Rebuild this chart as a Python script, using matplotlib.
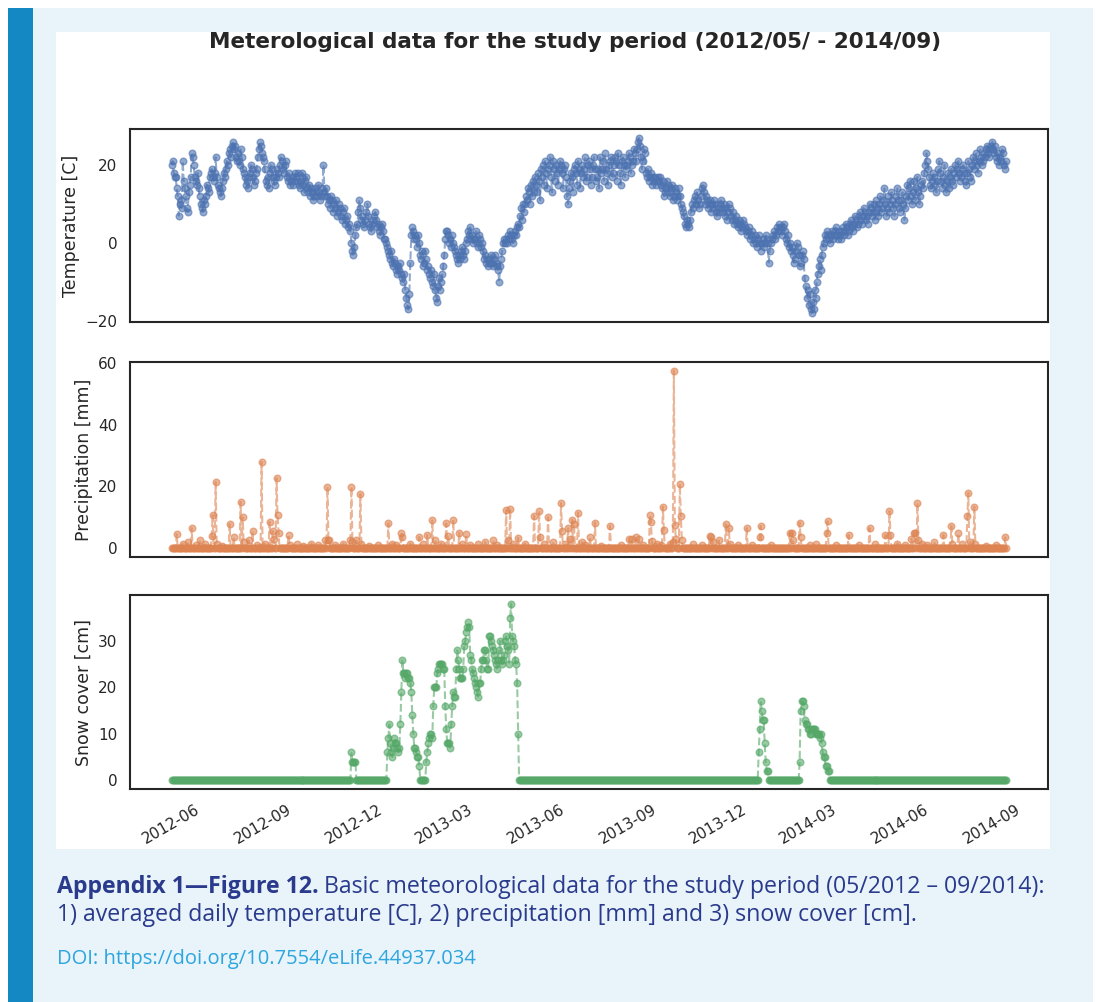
import numpy as np
import pandas as pd
import matplotlib
matplotlib.use('Agg')
import matplotlib.pyplot as plt
import matplotlib.dates as mdates
from matplotlib.patches import Rectangle

plt.rcParams['font.family'] = ['DejaVu Sans']

# daily mean temperature [C], one row per month, from 2012-05-01
start_day = '2012-05-01'
temp_c = [
    20, 21, 18, 17, 17, 14, 12, 7, 10, 11, 9, 21, 16, 14, 12, 9, 8, 13, 15, 17, 23, 22, 20, 17, 16, 15, 18, 14, 12, 10, 9,
    8, 11, 10, 12, 15, 14, 13, 17, 18, 19, 17, 16, 18, 22, 17, 15, 14, 13, 12, 14, 16, 18, 17, 19, 21, 20, 23, 24, 22, 25,
    26, 24, 25, 22, 21, 23, 21, 20, 24, 22, 19, 18, 17, 15, 16, 14, 17, 18, 20, 19, 17, 15, 16, 18, 19, 22, 24, 26, 25, 23, 22,
    21, 19, 16, 15, 17, 14, 18, 20, 19, 17, 16, 15, 17, 19, 18, 17, 20, 22, 21, 19, 18, 20, 21, 17, 16, 18, 15, 16, 17, 15, 16,
    18, 17, 16, 18, 15, 14, 16, 17, 18, 15, 13, 16, 17, 14, 13, 15, 12, 14, 13, 11, 12, 14, 13, 12, 15, 13, 11, 12, 14, 20,
    13, 12, 14, 12, 10, 11, 9, 12, 11, 8, 10, 9, 11, 7, 8, 10, 9, 7, 6, 8, 9, 5, 6, 7, 4, 5, 3, 0, -2, -3, -1,
    2, 4, 5, 8, 11, 9, 6, 7, 5, 4, 6, 8, 10, 7, 5, 4, 3, 5, 6, 7, 8, 6, 4, 5, 3, 2, 4, 5, 3, 1,
    1, 0, -1, -2, -3, -4, -2, -5, -6, -4, -5, -7, -8, -6, -7, -5, -8, -9, -10, -8, -12, -14, -16, -17, -13, -5, 2, 4, 3, 1, 2,
    1, -1, 2, 0, -3, -4, -2, -6, -5, -2, -4, -7, -6, -8, -9, -7, -10, -11, -8, -12, -14, -15, -11, -9, -12, -10, -8, -6, -3, 1, 3,
    3, 2, 0, 1, -1, 2, 0, -1, -2, -3, -4, -5, -3, -4, -2, -1, -3, -4, -2, 0, 1, 3, 2, 4, 1, 2, 0, 1,
    1, 3, 0, -1, 2, 1, -1, 0, -2, -4, -3, -5, -4, -6, -5, -4, -3, -5, -6, -4, -3, -5, -6, -7, -10, -6, -4, -2, 0, 1, 0,
    1, 0, 2, 1, 3, 2, 1, 0, 2, 3, 2, 4, 5, 4, 7, 9, 6, 10, 8, 10, 12, 11, 14, 13, 10, 15, 12, 16, 13, 17,
    15, 13, 18, 16, 11, 19, 17, 20, 15, 21, 18, 14, 19, 20, 22, 17, 13, 21, 19, 16, 20, 18, 15, 19, 21, 20, 18, 14, 19, 20, 17,
    12, 10, 14, 16, 18, 17, 13, 19, 20, 18, 15, 21, 19, 14, 18, 20, 17, 19, 22, 16, 17, 20, 21, 19, 15, 17, 20, 22, 19, 16,
    17, 19, 14, 22, 18, 19, 21, 16, 23, 19, 18, 15, 20, 21, 22, 17, 18, 20, 22, 21, 16, 23, 20, 18, 15, 21, 22, 20, 17, 19, 20,
    21, 23, 22, 18, 20, 21, 24, 23, 21, 24, 26, 27, 25, 22, 19, 21, 24, 23, 18, 17, 19, 16, 17, 18, 15, 17, 16, 17, 15, 16, 17,
    16, 17, 15, 14, 16, 12, 13, 14, 16, 15, 13, 12, 14, 15, 11, 12, 14, 13, 11, 12, 14, 12, 10, 9, 8, 7, 5, 4, 6, 5,
    4, 6, 8, 10, 9, 11, 12, 10, 13, 11, 9, 10, 12, 14, 15, 13, 10, 12, 11, 9, 10, 11, 8, 10, 9, 11, 10, 8, 7, 9, 8,
    10, 11, 9, 8, 10, 7, 9, 6, 8, 10, 9, 7, 6, 8, 5, 6, 7, 5, 4, 6, 5, 3, 4, 6, 5, 4, 3, 2, 3, 4,
    1, 2, 3, 0, 1, 2, 0, -1, 1, 2, 0, -2, 0, 1, -1, 0, 2, 1, 0, -5, -2, 0, 1, 2, 3, 1, 2, 4, 3, 5, 4,
    3, 2, 4, 5, 3, 1, 0, 2, -1, 0, -2, -1, -3, -5, -4, -2, 0, -1, -3, -6, -5, -3, -2, -4, -9, -11, -14, -12, -16, -13, -17,
    -18, -15, -17, -12, -14, -10, -8, -6, -4, -7, -3, -1, 0, 2, 1, 3, 2, 1, 0, 2, 3, 1, 2, 3, 4, 2, 1, 3,
    2, 1, 3, 4, 2, 3, 5, 4, 2, 3, 5, 6, 4, 3, 5, 7, 6, 4, 5, 7, 8, 6, 5, 7, 9, 8, 6, 7, 5, 8, 10,
    9, 7, 8, 10, 6, 8, 11, 9, 7, 10, 12, 8, 9, 11, 14, 10, 7, 9, 12, 8, 10, 13, 11, 9, 7, 10, 12, 14, 11, 9,
    8, 11, 13, 10, 6, 9, 12, 15, 11, 14, 16, 12, 10, 13, 16, 11, 14, 17, 13, 10, 12, 15, 16, 14, 18, 20, 23, 21, 19, 17, 15,
    14, 16, 18, 17, 15, 13, 16, 19, 21, 18, 16, 14, 17, 20, 15, 13, 16, 18, 14, 17, 19, 16, 15, 18, 20, 17, 19, 21, 18, 16,
    17, 19, 20, 18, 16, 15, 18, 21, 19, 17, 16, 20, 22, 19, 21, 23, 20, 18, 21, 24, 22, 20, 21, 23, 22, 24, 25, 23, 22, 24, 25,
    26, 24, 23, 25, 22, 21, 23, 20, 22, 21, 24, 23, 20, 19, 21,
]

# rain days [mm], all other days are 0
rain_dates = [
    '2012-05-06', '2012-05-12', '2012-05-17', '2012-05-21', '2012-05-25', '2012-05-29', '2012-06-03', '2012-06-10',
    '2012-06-11', '2012-06-14', '2012-06-15', '2012-06-20', '2012-06-28', '2012-07-02', '2012-07-09', '2012-07-11',
    '2012-07-12', '2012-07-17', '2012-07-21', '2012-07-25', '2012-07-30', '2012-08-02', '2012-08-07', '2012-08-10',
    '2012-08-11', '2012-08-14', '2012-08-15', '2012-08-16', '2012-08-26', '2012-08-27', '2012-09-03', '2012-09-10',
    '2012-09-18', '2012-09-25', '2012-10-02', '2012-10-04', '2012-10-05', '2012-10-06', '2012-10-12', '2012-10-20',
    '2012-10-27', '2012-10-28', '2012-10-29', '2012-11-02', '2012-11-06', '2012-11-07', '2012-11-15', '2012-11-24',
    '2012-12-04', '2012-12-08', '2012-12-12', '2012-12-17', '2012-12-18', '2012-12-26', '2013-01-04', '2013-01-08',
    '2013-01-12', '2013-01-17', '2013-01-20', '2013-01-26', '2013-01-31', '2013-02-02', '2013-02-07', '2013-02-13',
    '2013-02-16', '2013-02-20', '2013-02-24', '2013-03-04', '2013-03-11', '2013-03-19', '2013-03-23', '2013-04-01',
    '2013-04-03', '2013-04-05', '2013-04-08', '2013-04-13', '2013-04-20', '2013-04-29', '2013-05-04', '2013-05-05',
    '2013-05-09', '2013-05-13', '2013-05-18', '2013-05-26', '2013-05-27', '2013-05-30', '2013-06-02', '2013-06-04',
    '2013-06-06', '2013-06-08', '2013-06-12', '2013-06-16', '2013-06-19', '2013-06-24', '2013-06-29', '2013-07-05',
    '2013-07-14', '2013-07-25', '2013-08-02', '2013-08-05', '2013-08-09', '2013-08-12', '2013-08-16', '2013-08-23',
    '2013-08-24', '2013-08-25', '2013-08-30', '2013-09-03', '2013-09-05', '2013-09-06', '2013-09-12', '2013-09-15',
    '2013-09-16', '2013-09-17', '2013-09-18', '2013-09-22', '2013-09-23', '2013-09-24', '2013-10-05', '2013-10-14',
    '2013-10-22', '2013-10-23', '2013-10-25', '2013-10-31', '2013-11-07', '2013-11-10', '2013-11-11', '2013-11-19',
    '2013-11-28', '2013-12-03', '2013-12-11', '2013-12-12', '2013-12-22', '2014-01-10', '2014-01-12', '2014-01-13',
    '2014-01-20', '2014-01-21', '2014-01-30', '2014-02-05', '2014-02-16', '2014-02-17', '2014-02-25', '2014-03-10',
    '2014-03-20', '2014-03-31', '2014-04-05', '2014-04-16', '2014-04-20', '2014-04-21', '2014-04-28', '2014-05-06',
    '2014-05-12', '2014-05-15', '2014-05-16', '2014-05-18', '2014-05-19', '2014-05-23', '2014-05-28', '2014-06-04',
    '2014-06-13', '2014-06-21', '2014-06-22', '2014-06-28', '2014-07-02', '2014-07-07', '2014-07-08', '2014-07-10',
    '2014-07-14', '2014-07-15', '2014-07-26', '2014-08-05', '2014-08-14',
]
rain_mm = [
    4.5, 1.5, 2.0, 6.5, 1.0, 2.5, 1.2, 4.0,
    10.7, 21.4, 1.5, 0.8, 7.8, 3.5, 15.0, 10.0,
    2.0, 2.5, 5.5, 1.0, 28.0, 1.5, 8.5, 5.5,
    3.0, 22.7, 10.6, 5.0, 4.4, 1.0, 1.2, 0.8,
    1.5, 1.0, 2.5, 19.8, 2.5, 2.5, 1.0, 1.5,
    2.5, 19.8, 2.0, 2.5, 17.5, 1.5, 0.8, 1.0,
    8.0, 1.5, 1.0, 5.0, 3.5, 1.5, 3.6, 1.2,
    4.3, 9.0, 2.5, 1.5, 8.0, 4.0, 9.2, 5.0,
    1.5, 4.5, 1.0, 1.2, 2.0, 2.5, 1.0, 12.3,
    2.7, 12.6, 1.5, 3.3, 1.5, 10.5, 12.0, 3.5,
    1.5, 10.0, 2.0, 14.6, 5.5, 1.5, 6.5, 3.0,
    9.2, 7.8, 11.5, 2.0, 1.0, 3.5, 8.3, 0.8,
    7.2, 1.0, 3.0, 3.0, 3.5, 3.0, 1.0, 10.8,
    8.5, 2.3, 1.5, 1.0, 13.4, 5.8, 1.5, 2.0,
    57.5, 7.5, 3.0, 20.8, 10.4, 2.5, 1.2, 1.0,
    4.0, 3.5, 2.0, 2.5, 7.8, 6.5, 1.5, 1.0,
    6.5, 1.0, 3.5, 7.2, 1.0, 4.8, 5.0, 2.5,
    8.3, 3.5, 1.0, 1.5, 5.0, 8.7, 1.0, 4.3,
    1.0, 6.5, 1.5, 4.3, 12.0, 4.3, 1.5, 1.0,
    3.0, 5.0, 5.0, 14.6, 2.5, 1.5, 1.0, 2.0,
    4.3, 7.2, 1.5, 4.8, 1.5, 10.3, 17.9, 2.0,
    13.4, 1.5, 0.8, 1.0, 3.5,
]

# snow cover [cm], runs of consecutive days, all other days are 0
snow_starts = ['2012-10-28', '2012-12-03', '2013-12-10', '2014-01-20']
snow_runs = [
    [6, 4, 4, 4, 4],
    [6, 9, 12, 8, 6, 5, 7, 9, 8, 8, 7, 6, 7, 12, 19, 26, 23, 23, 22, 23, 23, 22, 22, 21, 19, 14, 10, 7, 7, 6,
     5, 5, 3, 0, 0, 0, 0, 0, 0, 4, 6, 8, 9, 10, 10, 9, 16, 20, 20, 20, 23, 24, 25, 25, 25, 25, 24, 24, 16, 11,
     8, 8, 8, 7, 12, 16, 19, 18, 18, 24, 28, 26, 24, 22, 22, 22, 24, 29, 30, 32, 33, 34, 33, 27, 26, 24, 23, 22, 21, 20,
     19, 18, 21, 21, 24, 26, 26, 28, 28, 26, 24, 24, 31, 31, 30, 29, 28, 27, 26, 25, 24, 26, 28, 30, 26, 25, 26, 27,
     30, 31, 29, 28, 25, 35, 38, 31, 30, 29, 26, 25, 21, 10],
    [6, 11, 17, 15, 13, 13, 8, 4, 2, 2],
    [4, 15, 17, 17, 16, 13, 12, 12, 11, 11, 10, 10, 11, 11, 11, 11, 10, 10, 10, 10, 9, 10, 8, 6, 5, 5, 3, 3, 2, 2],
]

dates = pd.date_range(start_day, periods=len(temp_c), freq='D')
precip = pd.Series(0.0, index=dates)
precip[pd.to_datetime(rain_dates)] = rain_mm
snow = pd.Series(0.0, index=dates)
for s, run in zip(snow_starts, snow_runs):
    idx = pd.date_range(s, periods=len(run), freq='D')
    snow[idx] = run

W, H = 1097, 1002
fig = plt.figure(figsize=(W / 100, H / 100), dpi=100, facecolor='white')


def box(l, t, r, b):
    return [l / W, 1 - b / H, (r - l) / W, (b - t) / H]


# page background, side bar, white figure area
fig.add_artist(Rectangle((8 / W, 0), (1093 - 8) / W, 1 - 8 / H, transform=fig.transFigure,
                         facecolor='#E8F3FA', edgecolor='none', zorder=-3))
fig.add_artist(Rectangle((8 / W, 0), 25 / W, 1 - 8 / H, transform=fig.transFigure,
                         facecolor='#1388C2', edgecolor='none', zorder=-2))
fig.add_artist(Rectangle((56 / W, 1 - 849 / H), (1050 - 56) / W, (849 - 32) / H, transform=fig.transFigure,
                         facecolor='white', edgecolor='none', zorder=-2))

dark = '#262626'
ax1 = fig.add_axes(box(130, 129, 1048, 322))
ax2 = fig.add_axes(box(130, 362, 1048, 557), sharex=ax1)
ax3 = fig.add_axes(box(130, 595, 1048, 789), sharex=ax1)

series = [(ax1, temp_c, '#4C72B0', 'Temperature [C]', [-20, 0, 20]),
          (ax2, precip.values, '#DD8452', 'Precipitation [mm]', [0, 20, 40, 60]),
          (ax3, snow.values, '#55A868', 'Snow cover [cm]', [0, 10, 20, 30])]

for ax, vals, col, lab, yt in series:
    ax.plot(dates, vals, '--o', color=col, alpha=0.6, markersize=4.8, linewidth=1.5)
    ax.set_ylabel(lab, fontsize=12.5, color=dark)
    ax.set_yticks(yt)
    ax.tick_params(length=0, pad=9, labelsize=11, colors=dark)
    for sp in ax.spines.values():
        sp.set_color(dark)
        sp.set_linewidth(1.5)

ax3.xaxis.set_major_locator(mdates.MonthLocator(bymonth=[3, 6, 9, 12]))
ax3.xaxis.set_major_formatter(mdates.DateFormatter('%Y-%m'))
for ax in (ax1, ax2):
    plt.setp(ax.get_xticklabels(), visible=False)
plt.setp(ax3.get_xticklabels(), rotation=30, ha='right')

fig.text(575 / W, 1 - 42 / H, 'Meterological data for the study period (2012/05/ - 2014/09)',
         ha='center', va='center', fontsize=15.5, fontweight='bold', color=dark)

# caption
navy = '#2A3A8C'
cap_font = ['Open Sans', 'DejaVu Sans']
cap_size = 16.7
r = fig.canvas.get_renderer()
t1 = fig.text(57 / W, 1 - 893 / H, 'Appendix 1\u2014Figure 12.', fontsize=cap_size, fontweight='bold',
              family=cap_font, color=navy, va='baseline')
bb = t1.get_window_extent(renderer=r)
fig.text(bb.x1 / W + 5 / W, 1 - 893 / H,
         'Basic meteorological data for the study period (05/2012 \u2013 09/2014):',
         fontsize=cap_size, family=cap_font, color=navy, va='baseline')
fig.text(57 / W, 1 - 921 / H,
         '1) averaged daily temperature [C], 2) precipitation [mm] and 3) snow cover [cm].',
         fontsize=cap_size, family=cap_font, color=navy, va='baseline')
fig.text(57 / W, 1 - 964 / H, 'DOI: https://doi.org/10.7554/eLife.44937.034',
         fontsize=14.5, family=cap_font, color='#2DA5DE', va='baseline')

fig.savefig('out.png', dpi=100, facecolor='white')
